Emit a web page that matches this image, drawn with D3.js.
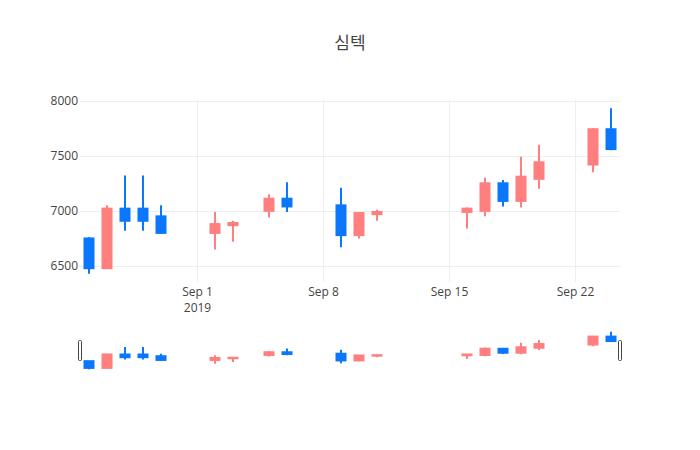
<!DOCTYPE html>
<html>
<head>
<meta charset="utf-8">
<style>
    body {
        margin: 0;
        font-family: "Open Sans", "Noto Sans CJK KR", sans-serif;
    }
    svg {
        display: block;
    }
    .title {
        font-size: 17px;
        fill: #444;
        text-anchor: middle;
    }
    .axis text {
        font-size: 12px;
        fill: #444;
        font-family: "Open Sans", sans-serif;
    }
    .axis .domain {
        display: none;
    }
    .grid line {
        stroke: #eee;
        stroke-width: 1;
    }
</style>
</head>
<body>
<script src="https://cdn.jsdelivr.net/npm/d3@7"></script>
<script>

    var dates = ["2019-08-26", "2019-08-27", "2019-08-28", "2019-08-29", "2019-08-30",
                 "2019-09-02", "2019-09-03", "2019-09-05", "2019-09-06",
                 "2019-09-09", "2019-09-10", "2019-09-11",
                 "2019-09-16", "2019-09-17", "2019-09-18", "2019-09-19", "2019-09-20",
                 "2019-09-23", "2019-09-24"];
    var openVals  = [6750, 6480, 7020, 7020, 6950, 6800, 6870, 7000, 7110, 7050, 6780, 6970, 6990, 7000, 7250, 7090, 7290, 7420, 7740];
    var highVals  = [6760, 7050, 7320, 7320, 7050, 6990, 6910, 7150, 7260, 7210, 6990, 7010, 7030, 7300, 7280, 7490, 7600, 7750, 7930];
    var lowVals   = [6430, 6480, 6820, 6820, 6790, 6650, 6720, 6940, 6990, 6670, 6750, 6910, 6840, 6950, 7040, 7030, 7200, 7350, 7550];
    var closeVals = [6480, 7020, 6910, 6910, 6800, 6880, 6890, 7110, 7040, 6780, 6980, 6990, 7020, 7250, 7090, 7310, 7440, 7740, 7560];

    var yTicks = [6500, 7000, 7500, 8000];
    var xTickDates = ["2019-09-01", "2019-09-08", "2019-09-15", "2019-09-22"];
    var xTickLabels = ["Sep 1", "Sep 8", "Sep 15", "Sep 22"];
    var chartTitle = "심텍";

    var upColor = "#ff7f7f",
        downColor = "#0a77fc";

    var width = 700, height = 450,
        left = 80, right = 620,
        plotTop = 100, plotBottom = 282,
        sliderTop = 330, sliderBottom = 371,
        bodyWidth = 9;

    var parse = d3.timeParse("%Y-%m-%d");

    var candles = dates.map(function(d, i) {
        return {date: parse(d), open: openVals[i], high: highVals[i], low: lowVals[i], close: closeVals[i]};
    });

    var x = d3.scaleTime()
        .domain([d3.timeHour.offset(parse("2019-08-25"), 12), d3.timeHour.offset(parse("2019-09-24"), 12)])
        .range([left, right]);

    var y = d3.scaleLinear().domain([6355, 8005]).range([plotBottom, plotTop]);
    var ySlider = d3.scaleLinear().domain([6355, 8005]).range([sliderBottom, sliderTop]);

    var svg = d3.select("body").append("svg")
        .attr("width", width)
        .attr("height", height);

    svg.append("rect").attr("width", width).attr("height", height).attr("fill", "white");

    svg.append("text")
        .attr("class", "title")
        .attr("x", width / 2)
        .attr("y", 49)
        .text(chartTitle);

    // gridlines
    var grid = svg.append("g").attr("class", "grid");
    grid.selectAll("line.h")
        .data(yTicks)
      .enter().append("line")
        .attr("x1", left).attr("x2", right)
        .attr("y1", function(d) {return Math.round(y(d)) + 0.5})
        .attr("y2", function(d) {return Math.round(y(d)) + 0.5});
    grid.selectAll("line.v")
        .data(xTickDates)
      .enter().append("line")
        .attr("x1", function(d) {return Math.round(x(parse(d))) + 0.5})
        .attr("x2", function(d) {return Math.round(x(parse(d))) + 0.5})
        .attr("y1", plotTop).attr("y2", plotBottom);

    // axes
    svg.append("g")
        .attr("class", "axis")
        .attr("transform", "translate(" + left + ",0)")
        .call(d3.axisLeft(y).tickValues(yTicks).tickSize(0).tickPadding(2).tickFormat(d3.format("d")));

    var xAxis = svg.append("g")
        .attr("class", "axis")
        .attr("transform", "translate(0," + plotBottom + ")")
        .call(d3.axisBottom(x)
            .tickValues(xTickDates.map(parse))
            .tickSize(0)
            .tickPadding(5)
            .tickFormat(function(d, i) {return xTickLabels[i]}));

    xAxis.selectAll(".tick")
        .filter(function(d, i) {return i === 0})
      .append("text")
        .attr("y", 5)
        .attr("dy", "2.05em")
        .attr("text-anchor", "middle")
        .text("2019");

    function drawCandles(g, ys) {
        var c = g.selectAll("g")
            .data(candles)
          .enter().append("g")
            .attr("stroke", function(d) {return d.close >= d.open ? upColor : downColor})
            .attr("fill", function(d) {return d.close >= d.open ? upColor : downColor});

        c.append("line")
            .attr("x1", function(d) {return x(d.date)})
            .attr("x2", function(d) {return x(d.date)})
            .attr("y1", function(d) {return ys(d.high)})
            .attr("y2", function(d) {return ys(d.low)})
            .attr("stroke-width", 2);

        c.append("rect")
            .attr("x", function(d) {return x(d.date) - bodyWidth / 2})
            .attr("width", bodyWidth)
            .attr("y", function(d) {return ys(Math.max(d.open, d.close))})
            .attr("height", function(d) {return Math.abs(ys(d.open) - ys(d.close))})
            .attr("stroke-width", 2);
    }

    drawCandles(svg.append("g"), y);

    // range slider
    drawCandles(svg.append("g"), ySlider);

    var handleMid = (sliderTop + sliderBottom) / 2;
    svg.selectAll("rect.handle")
        .data([left, right])
      .enter().append("rect")
        .attr("class", "handle")
        .attr("x", function(d) {return d - 1.5})
        .attr("y", handleMid - 10)
        .attr("width", 3)
        .attr("height", 20)
        .attr("rx", 1)
        .attr("fill", "white")
        .attr("stroke", "#444")
        .attr("stroke-width", 1);
</script>
</body>
</html>
